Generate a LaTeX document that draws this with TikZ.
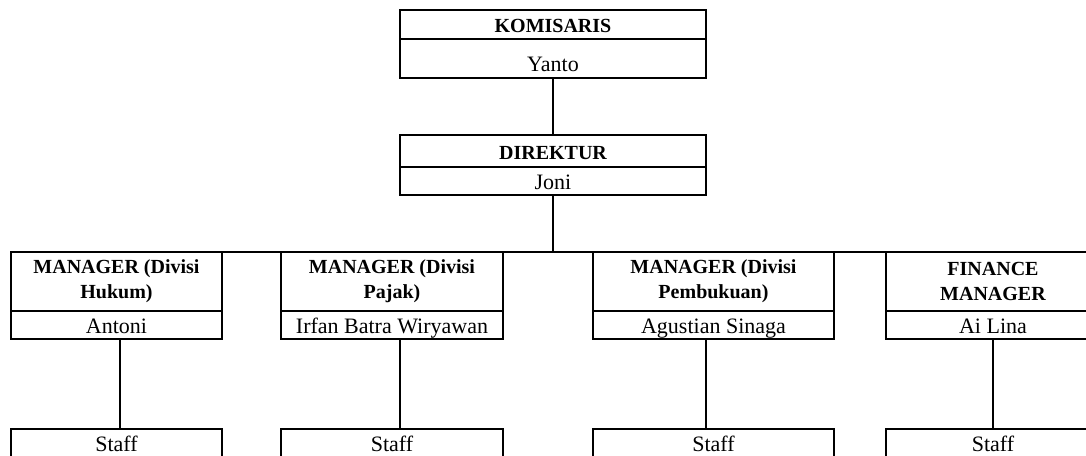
\documentclass[tikz,border=0pt]{standalone}
\usepackage{fontspec}
\setmainfont{Liberation Serif}
\usetikzlibrary{positioning}

\tikzset{
  kotak/.style={draw, line width=2.2pt, outer sep=0pt, inner sep=0pt, anchor=north west, align=center},
  jabatan/.style={kotak, font=\fontsize{15}{19}\selectfont\bfseries},
  nama/.style={kotak, font=\fontsize{16.5}{19}\selectfont, minimum height=21pt, text height=13.5pt, text depth=1.5pt},
  garis/.style={line width=1.9pt}
}

\begin{document}
\begin{tikzpicture}[x=0.75pt, y=-0.75pt]
    \useasboundingbox (0,0) rectangle (1086,455);

    % Komisaris dan direktur
    \node[jabatan, minimum width=229.5pt, minimum height=21.75pt, text height=12.5pt, text depth=0pt] (komisaris) at (400,10) {KOMISARIS};
    \node[nama, minimum width=229.5pt, minimum height=29.25pt, text height=20pt, text depth=0pt, below right=0pt of komisaris.south west] (komisarisnama) {Yanto};

    \node[jabatan, minimum width=229.5pt, minimum height=24pt, text height=12pt, text depth=0pt] (direktur) at (400,135) {DIREKTUR};
    \node[nama, minimum width=229.5pt, below right=0pt of direktur.south west] (direkturnama) {Joni};

    % Manager
    \node[jabatan, minimum width=158.25pt, minimum height=44.25pt] (hukum) at (11,252) {MANAGER (Divisi\\Hukum)};
    \node[nama, minimum width=158.25pt, below right=0pt of hukum.south west] (hukumnama) {Antoni};

    \node[jabatan, minimum width=166.5pt, minimum height=44.25pt] (pajak) at (281,252) {MANAGER (Divisi\\Pajak)};
    \node[nama, minimum width=166.5pt, below right=0pt of pajak.south west] (pajaknama) {Irfan Batra Wiryawan};

    \node[jabatan, minimum width=180.75pt, minimum height=44.25pt] (pembukuan) at (593,252) {MANAGER (Divisi\\Pembukuan)};
    \node[nama, minimum width=180.75pt, below right=0pt of pembukuan.south west] (pembukuannama) {Agustian Sinaga};

    \node[jabatan, minimum width=160.5pt, minimum height=44.25pt] (finance) at (886,252) {FINANCE\\MANAGER};
    \node[nama, minimum width=160.5pt, below right=0pt of finance.south west] (financenama) {Ai Lina};

    % Staff
    \node[nama, minimum width=158.25pt] (staffhukum) at (11,429) {Staff};
    \node[nama, minimum width=166.5pt] (staffpajak) at (281,429) {Staff};
    \node[nama, minimum width=180.75pt] (staffpembukuan) at (593,429) {Staff};
    \node[nama, minimum width=160.5pt] (stafffinance) at (886,429) {Staff};

    % Garis
    \draw[garis] (komisarisnama.south) -- (direktur.north);
    \draw[garis] (direkturnama.south) -- (direkturnama.south |- hukum.north);
    \draw[garis] (hukum.north west) -- (finance.north east);

    \draw[garis] ([xshift=2.6pt]hukumnama.south) -- ([xshift=2.6pt]staffhukum.north);
    \draw[garis] ([xshift=6pt]pajaknama.south) -- ([xshift=6pt]staffpajak.north);
    \draw[garis] ([xshift=-5.6pt]pembukuannama.south) -- ([xshift=-5.6pt]staffpembukuan.north);
    \draw[garis] (financenama.south) -- (stafffinance.north);
\end{tikzpicture}
\end{document}
